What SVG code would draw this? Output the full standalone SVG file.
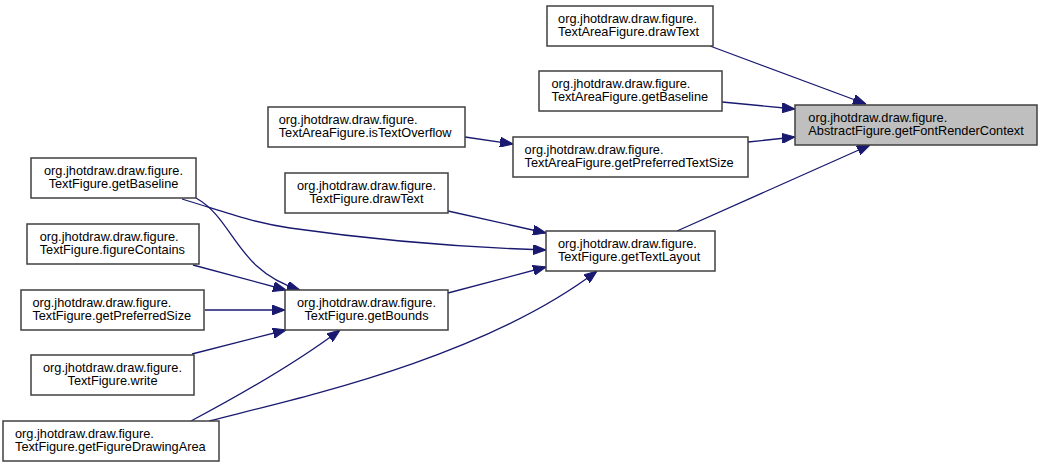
<svg xmlns="http://www.w3.org/2000/svg" width="1043" height="467" viewBox="0 0 1043 467">
<style>
.box{fill:#ffffff;stroke:#404040;stroke-width:1.5}
.root{fill:#bfbfbf;stroke:#404040;stroke-width:1.5}
text{font-family:"Liberation Sans",Arial,sans-serif;font-size:12.75px;fill:#000000}
.m{text-anchor:middle}
.e{fill:none;stroke:#191970;stroke-width:1.3;marker-end:url(#ah)}
</style>
<defs>
<marker id="ah" viewBox="0 0 13 10" refX="13" refY="5" markerWidth="13" markerHeight="10" markerUnits="userSpaceOnUse" orient="auto">
<path d="M0,0 L13,5 L0,10 z" fill="#191970" stroke="#191970" stroke-width="1"/>
</marker>
</defs>
<rect width="1043" height="467" fill="#ffffff"/>
<g id="edges">
<path class="e" d="M710,46 L866,104"/>
<path class="e" d="M722,102 L795,109"/>
<path class="e" d="M748,142 L795,137"/>
<path class="e" d="M677,231 L870,145"/>
<path class="e" d="M465,137 L513,144"/>
<path class="e" d="M448,211 L546,233"/>
<path class="e" d="M182,199 C225,212 250,222 290,228 C360,238 450,247 546,250"/>
<path class="e" d="M448,293 L546,267"/>
<path class="e" d="M209,421 C290,400 480,360 597,271"/>
<path class="e" d="M196,198 C235,220 235,270 300,290"/>
<path class="e" d="M193,265 L286,290"/>
<path class="e" d="M205,310 L285,310"/>
<path class="e" d="M192,354 L286,330"/>
<path class="e" d="M191,421 C240,395 300,360 340,330"/>
</g>
<g id="node_af_getFontRenderContext">
<rect class="root" x="795" y="105" width="242" height="40"/>
<text x="808.3" y="122">org.jhotdraw.draw.figure.</text>
<text x="808.3" y="135">AbstractFigure.getFontRenderContext</text>
</g>
<g id="node_ta_drawText">
<rect class="box" x="547" y="6" width="166" height="40"/>
<text x="558.1" y="23">org.jhotdraw.draw.figure.</text>
<text x="558.1" y="36">TextAreaFigure.drawText</text>
</g>
<g id="node_ta_getBaseline">
<rect class="box" x="539" y="71" width="183" height="40"/>
<text x="551.5" y="88">org.jhotdraw.draw.figure.</text>
<text x="551.5" y="101">TextAreaFigure.getBaseline</text>
</g>
<g id="node_ta_getPreferredTextSize">
<rect class="box" x="513" y="137" width="235" height="40"/>
<text x="524.6" y="154">org.jhotdraw.draw.figure.</text>
<text x="524.6" y="167">TextAreaFigure.getPreferredTextSize</text>
</g>
<g id="node_ta_isTextOverflow">
<rect class="box" x="268" y="107" width="197" height="40"/>
<text x="278.7" y="124">org.jhotdraw.draw.figure.</text>
<text x="278.7" y="137">TextAreaFigure.isTextOverflow</text>
</g>
<g id="node_tf_getTextLayout">
<rect class="box" x="546" y="231" width="169" height="40"/>
<text x="557.9" y="248">org.jhotdraw.draw.figure.</text>
<text x="557.9" y="261">TextFigure.getTextLayout</text>
</g>
<g id="node_tf_drawText">
<rect class="box" x="285" y="173" width="163" height="40"/>
<text class="m" x="366.5" y="190">org.jhotdraw.draw.figure.</text>
<text class="m" x="366.5" y="203">TextFigure.drawText</text>
</g>
<g id="node_tf_getBounds">
<rect class="box" x="285" y="290" width="163" height="40"/>
<text class="m" x="366.5" y="307">org.jhotdraw.draw.figure.</text>
<text class="m" x="366.5" y="320">TextFigure.getBounds</text>
</g>
<g id="node_tf_getBaseline">
<rect class="box" x="31" y="158" width="165" height="40"/>
<text class="m" x="113.5" y="175">org.jhotdraw.draw.figure.</text>
<text class="m" x="113.5" y="188">TextFigure.getBaseline</text>
</g>
<g id="node_tf_figureContains">
<rect class="box" x="27" y="224" width="172" height="40"/>
<text x="39.7" y="241">org.jhotdraw.draw.figure.</text>
<text x="39.7" y="254">TextFigure.figureContains</text>
</g>
<g id="node_tf_getPreferredSize">
<rect class="box" x="21" y="290" width="183" height="40"/>
<text x="32.4" y="307">org.jhotdraw.draw.figure.</text>
<text x="32.4" y="320">TextFigure.getPreferredSize</text>
</g>
<g id="node_tf_write">
<rect class="box" x="31" y="355" width="163" height="40"/>
<text class="m" x="112.5" y="372">org.jhotdraw.draw.figure.</text>
<text class="m" x="112.5" y="385">TextFigure.write</text>
</g>
<g id="node_tf_getFigureDrawingArea">
<rect class="box" x="3" y="421" width="216" height="40"/>
<text x="15" y="438">org.jhotdraw.draw.figure.</text>
<text x="15" y="451">TextFigure.getFigureDrawingArea</text>
</g>
</svg>
